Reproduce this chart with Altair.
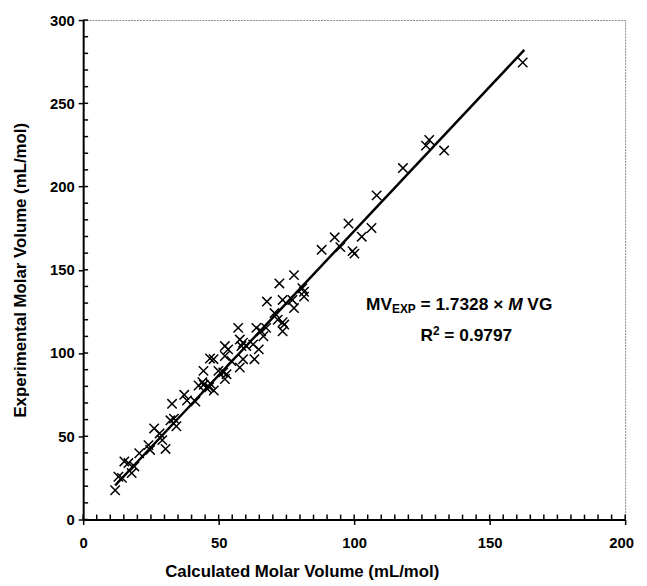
import altair as alt
import pandas as pd

# Data
calc_mv = [11.8, 13.0, 14.3, 15.2, 16.7, 17.9, 18.9, 20.7, 24.1, 24.7, 26.2, 28.2, 29.2, 30.4, 32.2,
           32.8, 33.5, 34.4, 37.3, 38.3, 41.4, 42.6, 44.0, 44.5, 45.5, 46.5, 48.2, 47.0, 52.3, 52.9,
           44.4, 46.8, 48.1, 49.9, 51.7, 52.3, 52.3, 53.5, 54.7, 57.2, 57.8, 58.4, 59.0, 60.2, 57.8,
           59.0, 62.7, 63.2, 64.8, 63.9, 65.7, 66.5, 67.5, 67.8, 70.6, 71.8, 73.6, 73.6, 74.2, 72.4,
           73.6, 77.2, 77.8, 77.8, 80.9, 81.5, 81.5,
           88.0, 92.8, 94.9, 97.9, 99.4, 100.1, 102.8, 106.4, 108.3, 118.0, 126.5, 127.7, 133.2, 162.2]
exp_mv = [17.6, 25.7, 25.0, 34.9, 33.9, 27.9, 31.9, 39.8, 44.7, 41.8, 54.7, 51.7, 47.7, 42.4, 59.6,
          69.5, 60.6, 56.0, 74.9, 71.5, 70.9, 80.5, 82.5, 81.0, 79.0, 79.5, 77.5, 81.5, 84.4, 87.3,
          89.3, 96.7, 96.3, 89.3, 88.4, 98.2, 104.2, 102.2, 95.2, 115.1, 108.1, 104.2, 106.2, 104.2, 91.3,
          96.3, 105.2, 96.3, 102.2, 115.1, 113.1, 110.1, 115.1, 130.9, 124.0, 120.0, 118.5, 113.1, 117.1, 141.8,
          131.9, 131.9, 127.0, 146.8, 138.9, 136.8, 133.9,
          162.0, 169.5, 163.6, 177.8, 161.2, 159.7, 169.9, 175.1, 194.7, 211.1, 224.6, 228.0, 221.6, 274.5]
slope = 1.7328
fit_x = [11.8, 162.8]

x_major = [0, 50, 100, 150, 200]
y_major = [0, 50, 100, 150, 200, 250, 300]
x_minor = list(range(0, 201, 5))
y_minor = list(range(0, 301, 10))

W, H = 548, 505
FONT = "Liberation Sans"

pts = pd.DataFrame({"calc": calc_mv, "exp": exp_mv})
fit = pd.DataFrame({"calc": fit_x, "exp": [slope * v for v in fit_x]})
xt = pd.DataFrame({"calc": x_minor})
yt = pd.DataFrame({"exp": y_minor})

xs = alt.Scale(domain=[0, 200], nice=False, zero=False)
ys = alt.Scale(domain=[0, 300], nice=False, zero=False)

common_axis = dict(grid=False, tickColor="black", domainColor="black", labelColor="black",
                   titleColor="black", labelFont=FONT, titleFont=FONT, labelFontWeight="bold",
                   titleFontWeight="bold", labelFontSize=15, titleFontSize=17)

xa = alt.Axis(values=x_major, tickSize=5, tickWidth=1.5, domainWidth=2, labelPadding=11,
              labelFlush=False, labelOverlap=False, titlePadding=14, titleX=221,
              labelOffset={"condition": {"test": "datum.value == 200", "value": -4}, "value": 0},
              **common_axis)
ya = alt.Axis(values=y_major, tickSize=5, tickWidth=1.5, domainWidth=2, labelPadding=4,
              labelOverlap=False, titlePadding=20, **common_axis)

XT = "Calculated Molar Volume (mL/mol)"
YT = "Experimental Molar Volume (mL/mol)"

cross = "M-1,-1L1,1M-1,1L1,-1"
points = alt.Chart(pts).mark_point(shape=cross, size=90, filled=False, color="black",
                                   strokeWidth=1.5, opacity=1).encode(
    x=alt.X("calc:Q", scale=xs, axis=xa, title=XT),
    y=alt.Y("exp:Q", scale=ys, axis=ya, title=YT),
)

line = alt.Chart(fit).mark_line(color="black", strokeWidth=2.5).encode(
    x=alt.X("calc:Q", scale=xs, title=XT),
    y=alt.Y("exp:Q", scale=ys, title=YT),
)

# inward minor ticks
xticks = alt.Chart(xt).mark_rule(color="black", strokeWidth=1.5).encode(
    x=alt.X("calc:Q", scale=xs, title=XT),
    y=alt.value(H), y2=alt.value(H - 5),
)
yticks = alt.Chart(yt).mark_rule(color="black", strokeWidth=1.5).encode(
    y=alt.Y("exp:Q", scale=ys, title=YT),
    x=alt.value(0), x2=alt.value(5),
)


def txt(s, x, y, size=17.5, italic=False, align="left"):
    return alt.Chart(pd.DataFrame({"t": [s]})).mark_text(
        font=FONT, fontWeight="bold", fontSize=size, color="black", align=align,
        baseline="alphabetic", fontStyle="italic" if italic else "normal",
    ).encode(x=alt.value(x), y=alt.value(y), text="t:N")


texts = [
    txt("MV", 286, 293),
    txt("EXP", 312.3, 296.5, size=12),
    txt("= 1.7328 \u00d7", 341.1, 293),
    txt("M", 429.7, 293, italic=True),
    txt("VG", 449.1, 293),
    txt("R", 341, 325),
    txt("2", 353.8, 318, size=12),
    txt("= 0.9797", 365.2, 325),
]

chart = alt.layer(points, line, xticks, yticks, *texts).properties(
    width=W, height=H,
    autosize=alt.AutoSizeParams(type="none"),
    padding={"left": 76, "top": 9, "right": 14, "bottom": 62},
).configure_view(stroke="#888888", strokeWidth=1, strokeDash=[2, 1])

chart.save("out.html", embed_options={"renderer": "svg", "actions": False})
